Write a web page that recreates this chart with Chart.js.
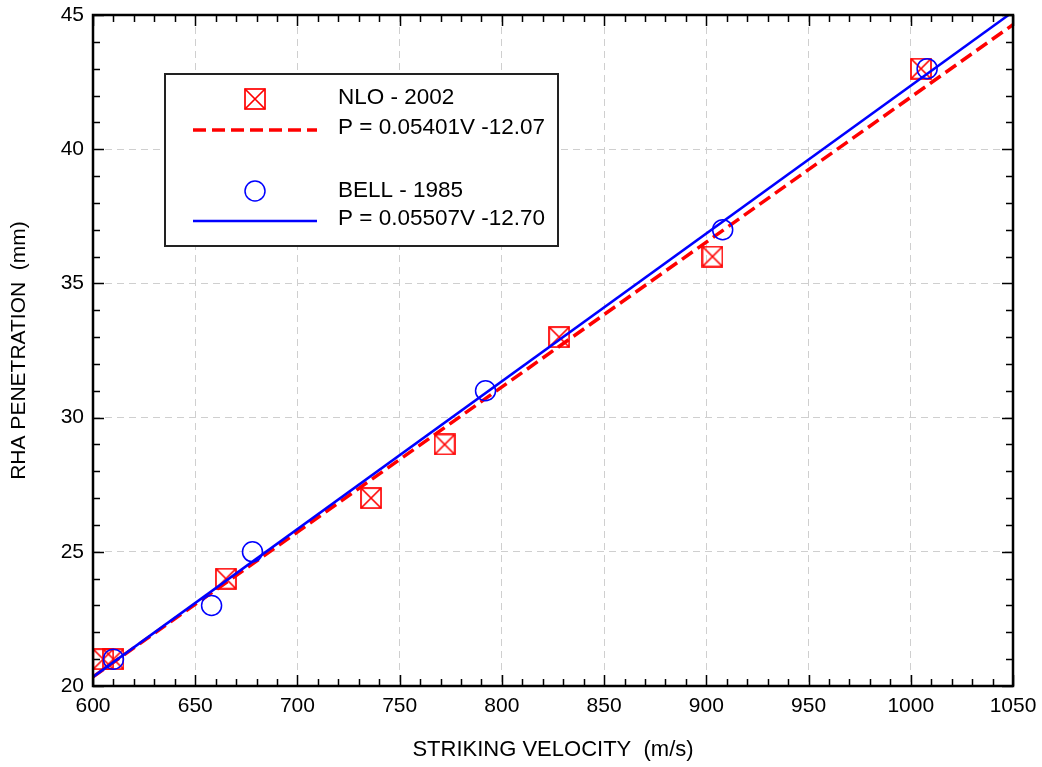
<!DOCTYPE html>
<html>
<head>
<meta charset="utf-8">
<script src="https://cdn.jsdelivr.net/npm/chart.js@4.4.1/dist/chart.umd.min.js"></script>
<style>
html, body { margin: 0; padding: 0; background: #fff; }
#wrap { width: 1042px; height: 767px; position: relative; }
</style>
</head>
<body>
<div id="wrap"><canvas id="c" width="1042" height="767"></canvas></div>
<script>
// measured points
var nloVelocity = [605, 610, 665, 736, 772, 828, 903, 1005];
var nloPenetration = [21, 21, 24, 27, 29, 33, 36, 43];
var bellVelocity = [610, 658, 678, 792, 908, 1008];
var bellPenetration = [21, 23, 25, 31, 37, 43];

// fitted lines (end points)
var nloFitVelocity = [600, 1050];
var nloFitPenetration = [20.34, 44.64];
var bellFitVelocity = [600, 1050];
var bellFitPenetration = [20.34, 45.12];

var xTickLabels = [600, 650, 700, 750, 800, 850, 900, 950, 1000, 1050];
var yTickLabels = [20, 25, 30, 35, 40, 45];

var legendLabels = ['NLO - 2002', 'P = 0.05401V -12.07', 'BELL - 1985', 'P = 0.05507V -12.70'];

var FONT = "'Liberation Sans', Arial, sans-serif";
var RED = '#ff0000';
var BLUE = '#0000ff';

function pairs(xs, ys) {
    return xs.map(function (x, i) { return {x: x, y: ys[i]}; });
}

function boxCross(size) {
    var c = document.createElement('canvas');
    c.width = size + 2; c.height = size + 2;
    var g = c.getContext('2d');
    g.strokeStyle = RED;
    g.lineWidth = 1.7;
    g.strokeRect(1, 1, size, size);
    g.beginPath();
    g.moveTo(1, 1); g.lineTo(size + 1, size + 1);
    g.moveTo(size + 1, 1); g.lineTo(1, size + 1);
    g.stroke();
    return c;
}
var squareMark = boxCross(20);

// inside ticks + frame
var frame = {
    id: 'frame',
    afterDatasetsDraw: function (chart) {
        var ctx = chart.ctx, a = chart.chartArea;
        var xs = chart.scales.x, ys = chart.scales.y;
        ctx.save();
        ctx.strokeStyle = '#000';
        ctx.lineWidth = 1.5;
        ctx.beginPath();
        for (var v = 600; v <= 1050; v += 10) {
            var px = Math.round(xs.getPixelForValue(v)) + 0.5;
            var len = v % 50 === 0 ? 11 : 7;
            ctx.moveTo(px, a.bottom); ctx.lineTo(px, a.bottom - len);
            ctx.moveTo(px, a.top); ctx.lineTo(px, a.top + len);
        }
        for (var w = 20; w <= 45; w += 1) {
            var py = Math.round(ys.getPixelForValue(w)) + 0.5;
            var l2 = w % 5 === 0 ? 11 : 7;
            ctx.moveTo(a.left, py); ctx.lineTo(a.left + l2, py);
            ctx.moveTo(a.right, py); ctx.lineTo(a.right - l2, py);
        }
        ctx.stroke();
        ctx.lineWidth = 2.5;
        ctx.strokeRect(a.left, a.top, a.right - a.left, a.bottom - a.top);
        ctx.restore();
    }
};

var legendBox = {
    id: 'legendBox',
    afterDraw: function (chart) {
        var ctx = chart.ctx;
        ctx.save();
        ctx.fillStyle = '#fff';
        ctx.fillRect(165, 74, 393, 172);
        ctx.strokeStyle = '#222';
        ctx.lineWidth = 2;
        ctx.strokeRect(165, 74, 393, 172);

        ctx.drawImage(squareMark, 255 - 11, 99 - 11);
        ctx.strokeStyle = RED; ctx.lineWidth = 3.5; ctx.setLineDash([13, 6]);
        ctx.beginPath(); ctx.moveTo(193, 130); ctx.lineTo(317, 130); ctx.stroke();
        ctx.setLineDash([]);

        ctx.strokeStyle = BLUE; ctx.lineWidth = 1.5;
        ctx.beginPath(); ctx.arc(255, 191, 10, 0, Math.PI * 2); ctx.stroke();
        ctx.lineWidth = 2.5;
        ctx.beginPath(); ctx.moveTo(193, 221); ctx.lineTo(317, 221); ctx.stroke();

        ctx.fillStyle = '#000';
        ctx.font = '22.5px ' + FONT;
        ctx.textBaseline = 'middle';
        ctx.fillText(legendLabels[0], 338, 98);
        ctx.fillText(legendLabels[1], 338, 128);
        ctx.fillText(legendLabels[2], 338, 191);
        ctx.fillText(legendLabels[3], 338, 219);
        ctx.restore();
    }
};

new Chart(document.getElementById('c'), {
    type: 'scatter',
    data: {
        datasets: [
            {
                label: 'NLO fit',
                type: 'line',
                data: pairs(nloFitVelocity, nloFitPenetration),
                borderColor: RED,
                borderWidth: 3.5,
                borderDash: [13, 6],
                pointRadius: 0,
                fill: false,
                order: 2
            },
            {
                label: 'BELL fit',
                type: 'line',
                data: pairs(bellFitVelocity, bellFitPenetration),
                borderColor: BLUE,
                borderWidth: 2.5,
                pointRadius: 0,
                fill: false,
                order: 1
            },
            {
                label: 'NLO - 2002',
                data: pairs(nloVelocity, nloPenetration),
                pointStyle: squareMark,
                pointRadius: 10,
                order: 3
            },
            {
                label: 'BELL - 1985',
                data: pairs(bellVelocity, bellPenetration),
                pointStyle: 'circle',
                pointRadius: 10,
                borderColor: BLUE,
                backgroundColor: 'rgba(0,0,0,0)',
                borderWidth: 1.5,
                order: 0
            }
        ]
    },
    options: {
        responsive: false,
        animation: false,
        layout: {padding: {top: 15, right: 29, left: 3, bottom: 0}},
        plugins: {legend: {display: false}, tooltip: {enabled: false}},
        scales: {
            x: {
                type: 'linear',
                min: 600, max: 1050,
                afterBuildTicks: function (s) { s.ticks = xTickLabels.map(function (v) { return {value: v}; }); },
                afterFit: function (s) { s.height = 81; s.paddingLeft = 0; s.paddingRight = 0; },
                grid: {color: '#cfcfcf', lineWidth: 1, drawTicks: false},
                border: {display: false, dash: [7, 5]},
                ticks: {color: '#000', font: {family: FONT, size: 21}, padding: 8, maxRotation: 0,
                        callback: function (v) { return String(v); }},
                title: {display: true, text: 'STRIKING VELOCITY  (m/s)', color: '#000', font: {family: FONT, size: 22}, padding: {top: 10}}
            },
            y: {
                type: 'linear',
                min: 20, max: 45,
                afterBuildTicks: function (s) { s.ticks = yTickLabels.map(function (v) { return {value: v}; }); },
                afterFit: function (s) { s.width = 90; s.paddingTop = 0; s.paddingBottom = 0; },
                grid: {color: '#cfcfcf', lineWidth: 1, drawTicks: false},
                border: {display: false, dash: [7, 5]},
                ticks: {color: '#000', font: {family: FONT, size: 21}, padding: 9,
                        callback: function (v) { return String(v); }},
                title: {display: true, text: 'RHA PENETRATION  (mm)', color: '#000', font: {family: FONT, size: 21}, padding: {bottom: 4}}
            }
        }
    },
    plugins: [frame, legendBox]
});
</script>
</body>
</html>
